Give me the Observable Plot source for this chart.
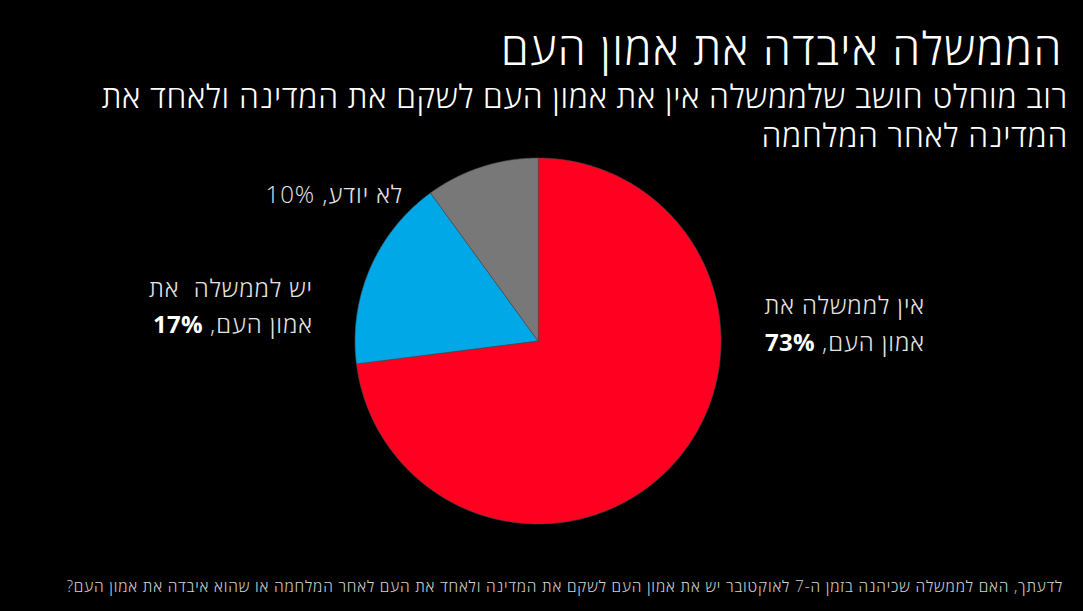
<!DOCTYPE html>
<html>
<head>
<meta charset="utf-8">
<script src="https://cdn.jsdelivr.net/npm/d3@7"></script>
<script src="https://cdn.jsdelivr.net/npm/@observablehq/plot@0.6"></script>
<style>
  html, body { margin: 0; padding: 0; background: #000; }
  #wrap { position: relative; width: 1083px; height: 611px; overflow: hidden; background: #000;
          font-family: "Open Sans", "Liberation Sans", "DejaVu Sans", sans-serif; }
  #chart { position: absolute; left: 0; top: 0; }
  .t { position: absolute; direction: rtl; text-align: right; white-space: nowrap; }
  #title { right: 20px; top: 25px; font-size: 45px; line-height: 45px; font-weight: 300; color: #fff; letter-spacing: 1.5px; }
  #subtitle { right: 15px; top: 76px; font-size: 32px; line-height: 39px; font-weight: 300; color: #fff; letter-spacing: 0.7px; }
  .lbl { font-size: 24px; line-height: 36px; font-weight: 300; color: #e4e4e4; letter-spacing: 0.95px; }
  .lbl b { font-weight: 700; color: #fff; letter-spacing: 0.3px; }
  #footer { right: 20px; top: 578px; font-size: 15.5px; line-height: 16px; font-weight: 300; color: #d0d0d0; letter-spacing: 0.82px; }
</style>
</head>
<body>
<div id="wrap">
  <div id="chart"></div>
  <div id="title" class="t"></div>
  <div id="subtitle" class="t"></div>
  <div id="l2" class="t lbl" style="right:680px; top:176px;"></div>
  <div id="l1" class="t lbl" style="right:770px; top:270px;"></div>
  <div id="l0" class="t lbl" style="right:158px; top:286px; line-height:37px;"></div>
  <div id="footer" class="t"></div>
</div>
<script>
// ---- data ----
const categories = ["אין לממשלה את אמון העם", "יש לממשלה את אמון העם", "לא יודע"];
const values = [73, 17, 10];
const labelLine1 = ["אין לממשלה את", "יש לממשלה&nbsp; את", "לא יודע,"];
const labelLine2 = ["אמון העם,", "אמון העם,", ""];
const colors = ["#ff0020", "#00a8e8", "#787878"];

const titleText = "הממשלה איבדה את אמון העם";
const subtitleLines = ["רוב מוחלט חושב שלממשלה אין את אמון העם לשקם את המדינה ולאחד את", "המדינה לאחר המלחמה"];
const footerText = "לדעתך, האם לממשלה שכיהנה בזמן ה-7 לאוקטובר יש את אמון העם לשקם את המדינה ולאחד את העם לאחר המלחמה או שהוא איבדה את אמון העם?";

// ---- pie geometry from values ----
const arcs = d3.pie().sort(null)(values);
const pts = [];
arcs.forEach((a, i) => {
  const cat = categories[i];
  pts.push({cat, x: 0, y: 0});
  const n = Math.max(2, Math.ceil((a.endAngle - a.startAngle) / (Math.PI / 360)));
  for (let k = 0; k <= n; k++) {
    const t = a.startAngle + (a.endAngle - a.startAngle) * k / n;
    pts.push({cat, x: Math.sin(t), y: Math.cos(t)});
  }
});

const cx = 537.5, cy = 340.5, r = 183;
const chart = Plot.plot({
  width: 1083,
  height: 611,
  margin: 0,
  style: {background: "transparent"},
  x: {domain: [-1, 1], range: [cx - r, cx + r], axis: null},
  y: {domain: [-1, 1], range: [cy + r, cy - r], axis: null},
  color: {domain: categories, range: colors},
  marks: [
    Plot.line(pts, {x: "x", y: "y", z: "cat", fill: "cat", stroke: "#4a4a4a", strokeWidth: 0.6, curve: "linear-closed"})
  ]
});
document.getElementById("chart").appendChild(chart);

// ---- texts ----
document.getElementById("title").textContent = titleText;
document.getElementById("subtitle").innerHTML = subtitleLines.join("<br>");
document.getElementById("footer").textContent = footerText;
document.getElementById("l0").innerHTML = labelLine1[0] + "<br>" + labelLine2[0] + " <b>" + values[0] + "%</b>";
document.getElementById("l1").innerHTML = labelLine1[1] + "<br>" + labelLine2[1] + " <b>" + values[1] + "%</b>";
document.getElementById("l2").innerHTML = labelLine1[2] + " " + values[2] + "%";
</script>
</body>
</html>
